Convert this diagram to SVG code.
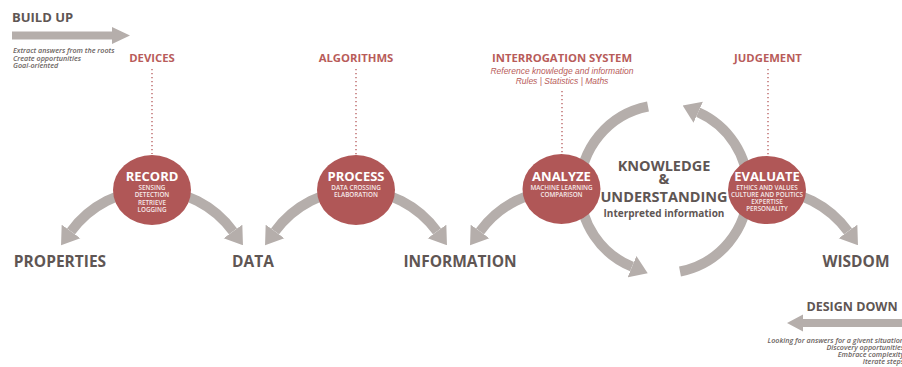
<svg xmlns="http://www.w3.org/2000/svg" width="902" height="367" viewBox="0 0 902 367">
  <defs>
    <style>
      .bg { fill: #ffffff; }
      .flow { fill: none; stroke: #b5aeab; stroke-width: 10; }
      .head { fill: #b5aeab; }
      .dots { stroke: #b5595a; stroke-width: 1.3; stroke-dasharray: 1.2 2.8; fill: none; }
      .node { fill: #b05757; }
      .title { font-family: "Open Sans", "Liberation Sans", sans-serif; font-weight: 700; font-size: 13px; fill: #ffffff; text-anchor: middle; }
      .sub { font-family: "Open Sans", "Liberation Sans", sans-serif; font-weight: 600; font-size: 6.3px; fill: #f6eaea; text-anchor: middle; }
      .stage { font-family: "Open Sans", "Liberation Sans", sans-serif; font-weight: 700; font-size: 15.5px; fill: #5f5654; text-anchor: middle; }
      .tool { font-family: "Open Sans", "Liberation Sans", sans-serif; font-weight: 700; font-size: 11.3px; fill: #b85c5a; text-anchor: middle; }
      .toolnote { font-family: "Liberation Sans", Arial, sans-serif; font-style: italic; font-size: 8.5px; fill: #b85c5a; text-anchor: middle; }
      .dir { font-family: "Open Sans", "Liberation Sans", sans-serif; font-weight: 700; font-size: 13px; fill: #5f5654; }
      .note { font-family: "Open Sans", "Liberation Sans", sans-serif; font-style: italic; font-weight: 600; font-size: 7.2px; fill: #6b6361; }
      .ku { font-family: "Open Sans", "Liberation Sans", sans-serif; font-weight: 700; font-size: 14.5px; fill: #5f5654; text-anchor: middle; }
      .ku-sub { font-family: "Open Sans", "Liberation Sans", sans-serif; font-weight: 700; font-size: 10px; fill: #5f5654; text-anchor: middle; }
    </style>
    <marker id="arrow" markerUnits="userSpaceOnUse" viewBox="0 -12 17 24" markerWidth="17" markerHeight="24" refX="0" refY="0" orient="auto">
      <path class="head" d="M0,-11.5 L17,0 L0,11.5 Z"/>
    </marker>
  </defs>

  <rect class="bg" x="0" y="0" width="902" height="367"/>

  <!-- Direction banners -->
  <g id="build-up">
    <text class="dir" x="12" y="22">BUILD UP</text>
    <polygon class="head" points="12,31.5 112,31.5 112,27 130,35.5 112,44 112,39.5 12,39.5"/>
    <text class="note" x="13" y="53">Extract answers  from the roots</text>
    <text class="note" x="13" y="60.5">Create opportunities</text>
    <text class="note" x="13" y="68">Goal-oriented</text>
  </g>

  <g id="design-down">
    <text class="dir" x="852" y="311" text-anchor="middle" style="font-size:12.5px">DESIGN DOWN</text>
    <polygon class="head" points="787,323 803,314.5 803,319 902,319 902,327 803,327 803,331.5"/>
    <g text-anchor="end">
      <text class="note" x="904" y="343">Looking for answers for a givent situation</text>
      <text class="note" x="904" y="350">Discovery opportunities</text>
      <text class="note" x="904" y="357">Embrace complexity</text>
      <text class="note" x="904" y="364">Iterate steps</text>
    </g>
  </g>

  <!-- Tool / method labels above each step -->
  <g id="devices">
    <text class="tool" x="152" y="62">DEVICES</text>
  </g>
  <g id="algorithms">
    <text class="tool" x="356" y="62">ALGORITHMS</text>
  </g>
  <g id="interrogation-system">
    <text class="tool" x="562" y="62">INTERROGATION SYSTEM</text>
    <text class="toolnote" x="562" y="74">Reference knowledge and information</text>
    <text class="toolnote" x="562" y="84">Rules | Statistics | Maths</text>
  </g>
  <g id="judgement">
    <text class="tool" x="768" y="62">JUDGEMENT</text>
  </g>

  <!-- Connectors -->
  <g id="connectors">
    <path class="dots" d="M152,69 V154"/>
    <path class="dots" d="M356,69 V156"/>
    <path class="dots" d="M562,91 V154"/>
    <path class="dots" d="M768,69 V157"/>

    <!-- record -->
    <path class="flow" d="M152,190 A100,100 0 0 0 71,231.4" marker-end="url(#arrow)"/>
    <path class="flow" d="M152,190 A100,100 0 0 1 233,231.4" marker-end="url(#arrow)"/>
    <!-- process -->
    <path class="flow" d="M356,190 A100,100 0 0 0 275,231.4" marker-end="url(#arrow)"/>
    <path class="flow" d="M356,190 A100,100 0 0 1 437,231.4" marker-end="url(#arrow)"/>
    <!-- analyze -->
    <path class="flow" d="M561,190 A100,100 0 0 0 480,231.4" marker-end="url(#arrow)"/>
    <!-- evaluate -->
    <path class="flow" d="M767,190 A100,100 0 0 1 848,231.4" marker-end="url(#arrow)"/>

    <!-- knowledge cycle -->
    <path class="flow" d="M580,189 A84,84 0 0 1 648,106.5"/>
    <path class="flow" d="M748,189 A84,84 0 0 0 698.2,112.3" marker-end="url(#arrow)"/>
    <path class="flow" d="M580,189 A84,84 0 0 0 632,266.7" marker-end="url(#arrow)"/>
    <path class="flow" d="M680,271.5 A84,84 0 0 0 748,189"/>
  </g>

  <!-- Steps -->
  <g id="record">
    <ellipse class="node" cx="152" cy="190" rx="39" ry="35"/>
    <text class="title" x="152" y="180.5">RECORD</text>
    <text class="sub" x="152" y="189.5">SENSING</text>
    <text class="sub" x="152" y="197">DETECTION</text>
    <text class="sub" x="152" y="204.5">RETRIEVE</text>
    <text class="sub" x="152" y="212">LOGGING</text>
  </g>

  <g id="process">
    <ellipse class="node" cx="356" cy="190" rx="39" ry="35"/>
    <text class="title" x="356" y="180.5">PROCESS</text>
    <text class="sub" x="356" y="189.5">DATA CROSSING</text>
    <text class="sub" x="356" y="197">ELABORATION</text>
  </g>

  <g id="analyze">
    <ellipse class="node" cx="561.5" cy="189" rx="39" ry="35"/>
    <text class="title" x="561.5" y="180.5">ANALYZE</text>
    <text class="sub" x="561.5" y="190">MACHINE LEARNING</text>
    <text class="sub" x="561.5" y="197">COMPARISON</text>
  </g>

  <g id="evaluate">
    <ellipse class="node" cx="767" cy="190" rx="39" ry="34"/>
    <text class="title" x="767" y="180.5">EVALUATE</text>
    <text class="sub" x="767" y="189.5">ETHICS AND VALUES</text>
    <text class="sub" x="767" y="196.5">CULTURE AND POLITICS</text>
    <text class="sub" x="767" y="203.5">EXPERTISE</text>
    <text class="sub" x="767" y="210.5">PERSONALITY</text>
  </g>

  <g id="knowledge">
    <text class="ku" x="664" y="171">KNOWLEDGE</text>
    <text class="ku" x="664" y="184">&amp;</text>
    <text class="ku" x="664" y="202">UNDERSTANDING</text>
    <text class="ku-sub" x="664" y="217">Interpreted information</text>
  </g>

  <!-- Outcomes -->
  <g id="properties"><text class="stage" x="60" y="267">PROPERTIES</text></g>
  <g id="data"><text class="stage" x="253" y="267">DATA</text></g>
  <g id="information"><text class="stage" x="460" y="267">INFORMATION</text></g>
  <g id="wisdom"><text class="stage" x="856" y="267">WISDOM</text></g>
</svg>
